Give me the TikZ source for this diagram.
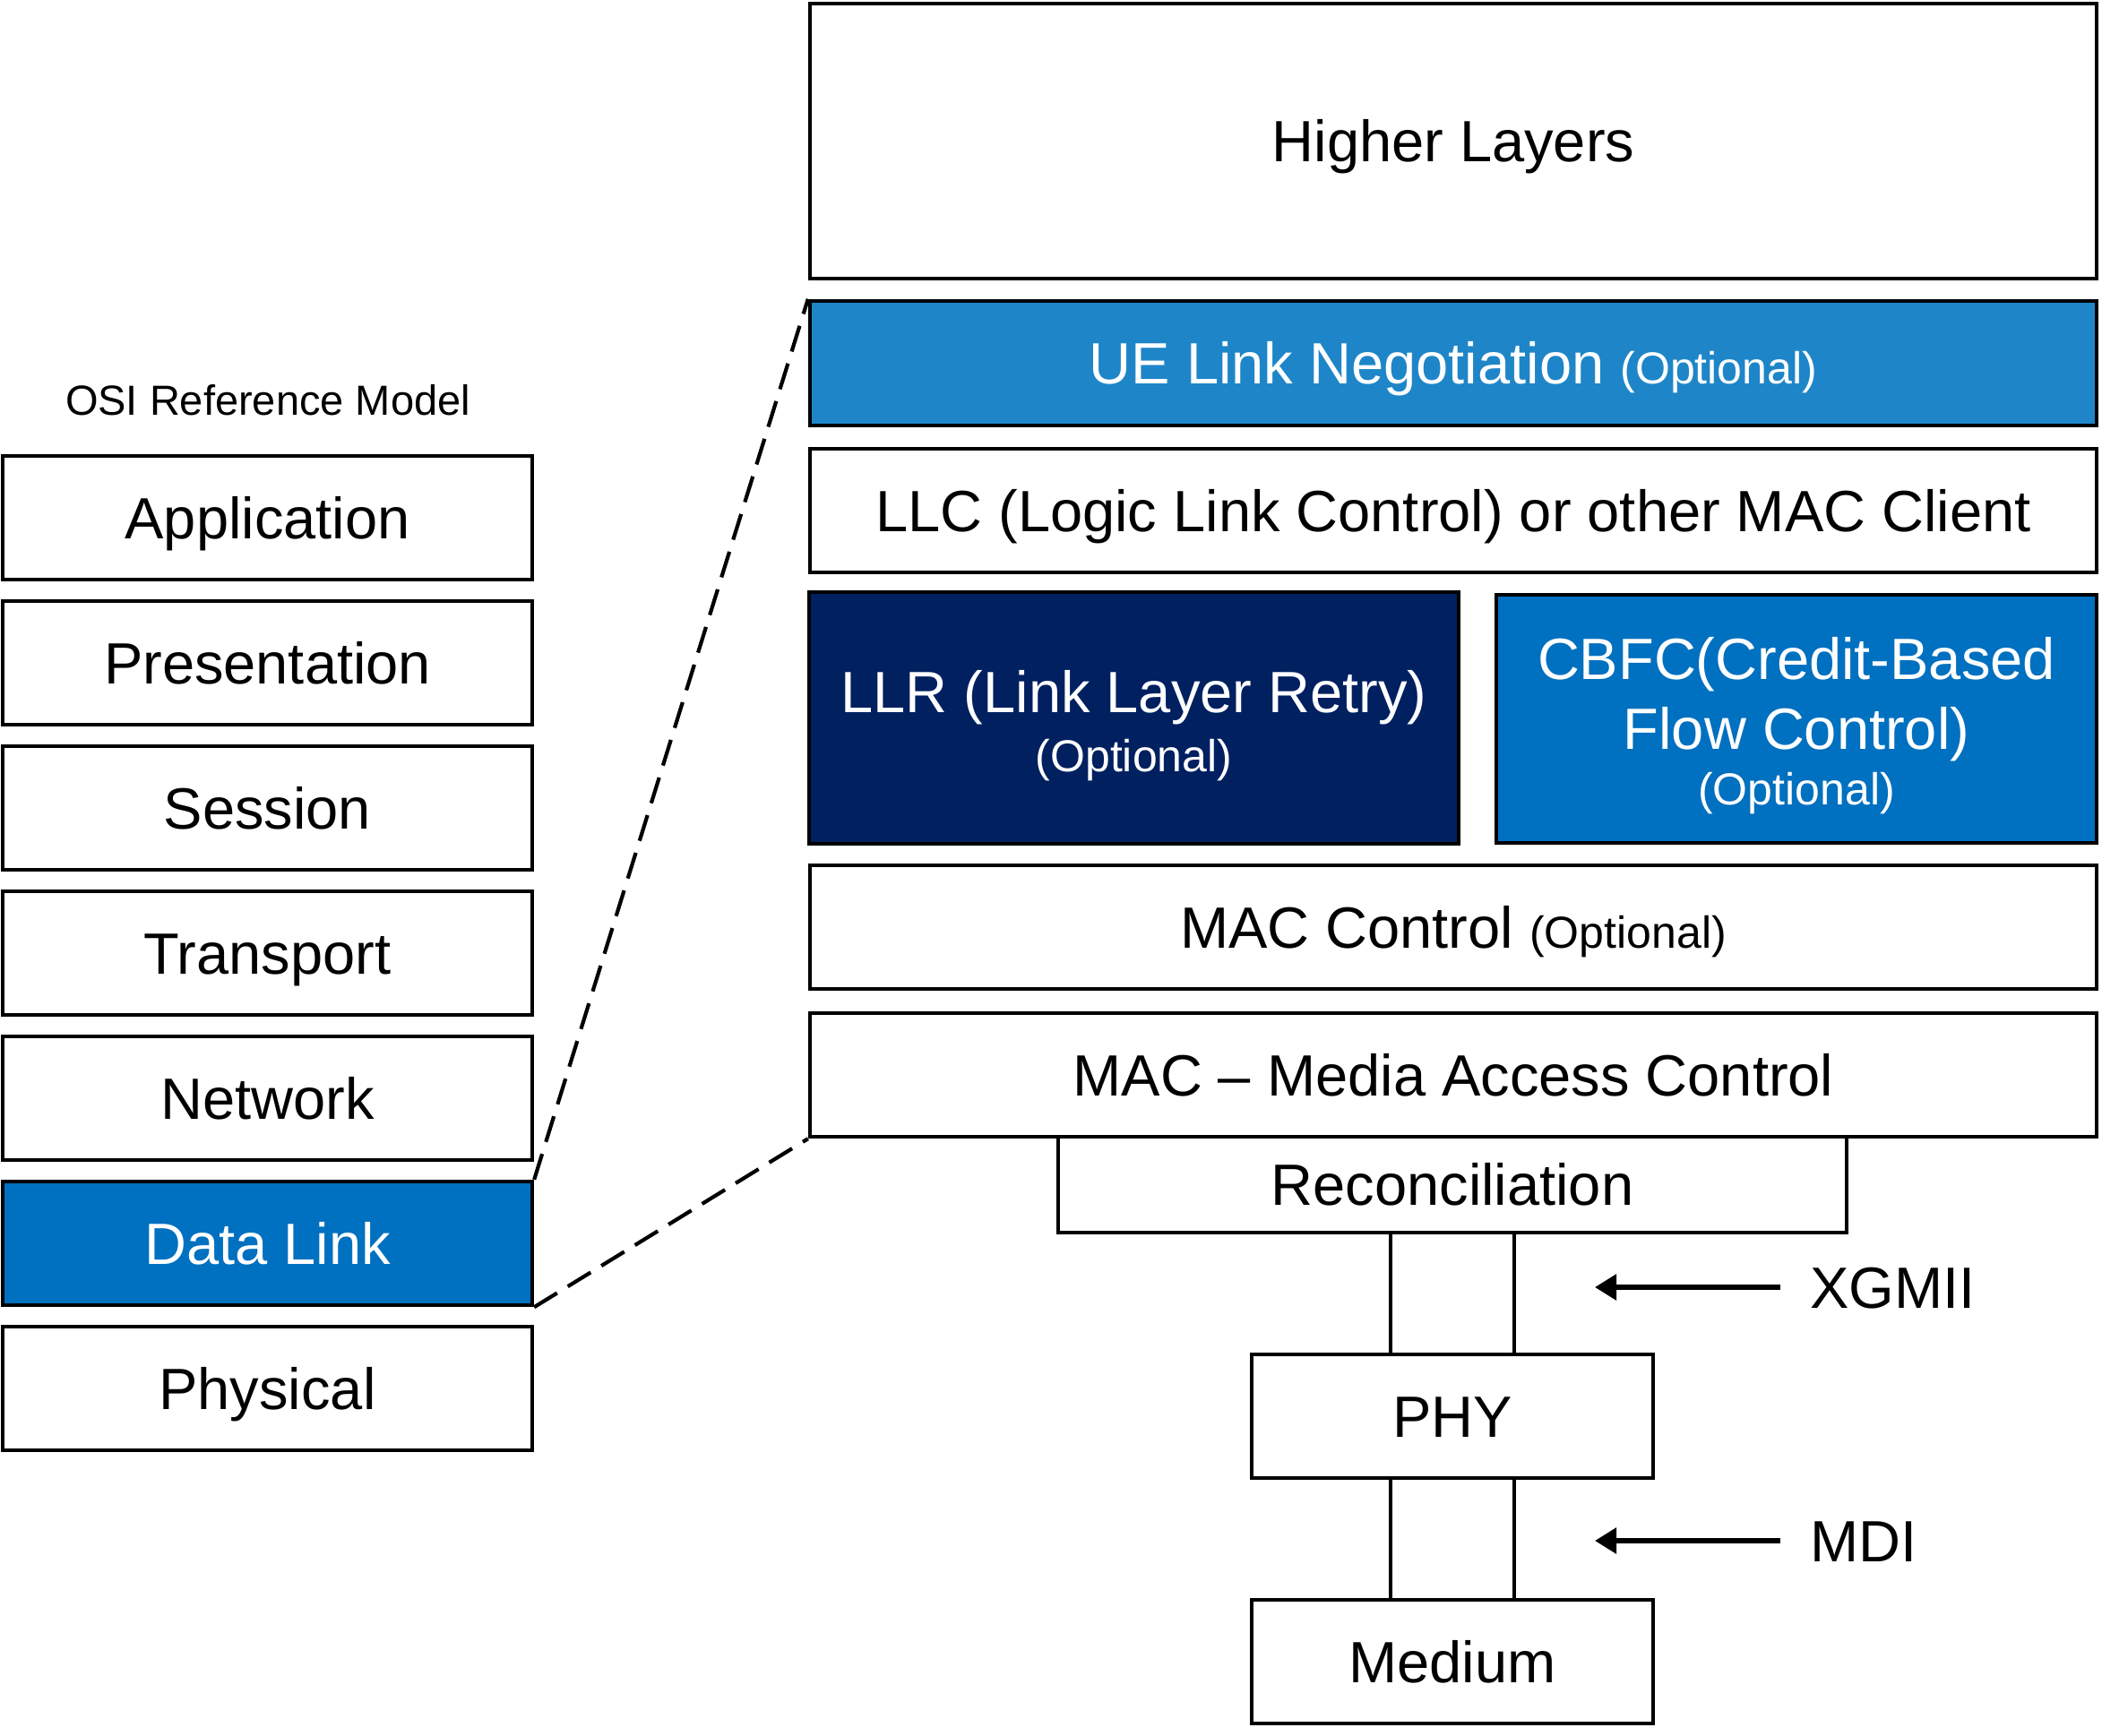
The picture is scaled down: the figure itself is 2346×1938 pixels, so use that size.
\documentclass[tikz,border=0pt]{standalone}
\usepackage{fontspec}
\setmainfont{Liberation Sans}
\usetikzlibrary{arrows.meta}
\definecolor{uelink}{RGB}{30,134,200}
\definecolor{dlblue}{RGB}{0,112,192}
\definecolor{llrblue}{RGB}{0,32,96}
\newcommand{\bigtxt}{\fontsize{32.5}{38}\selectfont}
\newcommand{\smtxt}{\fontsize{25}{30}\selectfont}
\tikzset{
  layer/.style={draw=black, line width=2.2pt, fill=white, inner sep=0pt, align=center, font=\bigtxt},
  oneline/.style={text height=23.3pt, text depth=0pt},
  lowbox/.style={draw=black, line width=1.9pt, fill=white, inner sep=0pt, align=center, font=\bigtxt, oneline},
  osibox/.style={layer, oneline, minimum width=295.5pt, minimum height=69pt},
  rightbox/.style={layer, oneline, minimum width=718pt},
  lbl/.style={inner sep=0pt, font=\bigtxt, anchor=west, oneline},
  zoomline/.style={line width=2.1pt, dash pattern=on 15pt off 7pt},
  ifarrow/.style={line width=2.8pt, -{Triangle[length=12pt,width=14pt]}, shorten <=16.5pt}
}
\begin{document}
\begin{tikzpicture}[x=0.5pt,y=-0.5pt]
\useasboundingbox (0,0) rectangle (2346,1938);
% OSI model
\node[font=\fontsize{23.5}{28}\selectfont, inner sep=0pt, text height=16.8pt, text depth=0pt] (osititle) at (299,447) {OSI Reference Model};
\node[osibox] (app)  at (298.5,578)  {Application};
\node[osibox] (pres) at (298.5,740)  {Presentation};
\node[osibox] (sess) at (298.5,902)  {Session};
\node[osibox] (trans) at (298.5,1064) {Transport};
\node[osibox] (net)  at (298.5,1226) {Network};
\node[osibox, fill=dlblue, text=white] (dl) at (298.5,1388) {Data Link};
\node[osibox] (phys) at (298.5,1550) {Physical};
% right stack
\node[rightbox, minimum height=153.5pt] (higher) at (1622,157.5) {Higher Layers};
\node[rightbox, minimum height=69.5pt, fill=uelink, text=white] (ue) at (1622,405.5) {UE Link Negotiation {\smtxt (Optional)}};
\node[rightbox, minimum height=69pt] (llc) at (1622,570) {LLC (Logic Link Control) or other MAC Client};
\node[layer, minimum width=362.5pt, minimum height=140.5pt, fill=llrblue, text=white] (llr) at (1265.5,801.5)
  {\rule{0pt}{32pt}LLR (Link Layer Retry)\\[-5pt]{\smtxt (Optional)}};
\node[layer, minimum width=335pt, minimum height=138.5pt, fill=dlblue, text=white] (cbfc) at (2005,802.5)
  {\rule{0pt}{31pt}CBFC(Credit-Based\\[1pt]Flow Control)\\[-7pt]{\smtxt (Optional)}};
\node[rightbox, minimum height=69pt] (macc) at (1622,1035) {MAC Control {\smtxt (Optional)}};
\node[lowbox, minimum width=440pt, minimum height=53.5pt] (recon) at (1621,1322.5) {Reconciliation};
\node[rightbox, minimum height=69pt] (mac) at (1622,1200) {MAC -- Media Access Control};
\node[lowbox, minimum width=69pt, minimum height=68pt] (if1) at (1621,1444) {};
\node[lowbox, minimum width=224pt, minimum height=69pt] (phy) at (1621,1581) {PHY};
\node[lowbox, minimum width=69pt, minimum height=68pt] (if2) at (1621,1718) {};
\node[lowbox, minimum width=224pt, minimum height=69pt] (medium) at (1621,1855) {Medium};
% interface labels
\node[lbl] (xgmii) at (2020,1437) {XGMII};
\node[lbl] (mdi) at (2020,1720) {MDI};
\coordinate (xgtip) at (1780,1437);
\coordinate (mditip) at (1780,1720);
\draw[ifarrow] (xgmii.west) -- (xgtip);
\draw[ifarrow] (mdi.west) -- (mditip);
% zoom lines
\draw[zoomline] (dl.north east) -- (ue.north west);
\draw[zoomline] (dl.south east) -- (mac.south west);
\end{tikzpicture}
\end{document}
